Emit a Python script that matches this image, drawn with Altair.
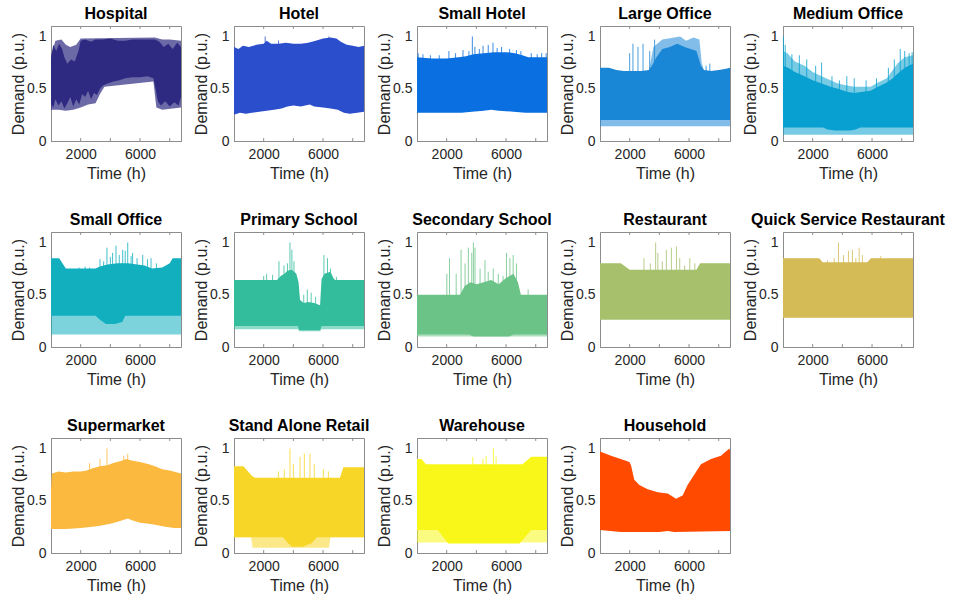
import altair as alt
import pandas as pd

FONT = "Liberation Sans"
TEXT = "#262626"
BOX = "#8c8c8c"

X_TICKS = [2000, 4000, 6000, 8000]
X_LABELS = [2000, 6000]
Y_TICKS = [0, 0.5, 1]

# ---------------- Hospital ----------------
HOSPITAL_HI = [(0, 0.78), (150, 0.92), (350, 0.86), (550, 0.93), (750, 0.88), (900, 0.80), (1100, 0.74),
               (1350, 0.78), (1600, 0.76), (1850, 0.86), (2000, 0.96), (2300, 0.97), (2700, 0.95), (3000, 0.97),
               (3500, 0.97), (4000, 0.98), (4500, 0.96), (5000, 0.96), (5500, 0.97), (6000, 0.97), (6500, 0.97),
               (7000, 0.97), (7300, 0.95), (7600, 0.90), (7900, 0.93), (8200, 0.88), (8500, 0.94), (8760, 0.90)]
HOSPITAL_LO = [(0, 0.36), (150, 0.32), (300, 0.40), (500, 0.34), (700, 0.38), (900, 0.31), (1100, 0.36),
               (1300, 0.42), (1500, 0.33), (1700, 0.40), (1900, 0.35), (2100, 0.45), (2300, 0.42), (2500, 0.48),
               (2700, 0.40), (2900, 0.46), (3100, 0.44), (3300, 0.50), (3500, 0.53), (3800, 0.55), (4200, 0.57),
               (4600, 0.58), (5000, 0.60), (5500, 0.61), (6000, 0.61), (6500, 0.62), (6900, 0.60), (7050, 0.50),
               (7200, 0.38), (7400, 0.34), (7700, 0.38), (8000, 0.33), (8300, 0.37), (8600, 0.34), (8760, 0.42)]
HOSPITAL_SPARSE_HI = [(0, 0.82), (300, 0.96), (700, 0.97), (1000, 0.92), (1300, 0.90), (1700, 0.92), (2000, 0.98),
                      (7000, 0.99), (7500, 0.97), (8000, 0.97), (8760, 0.96)]
HOSPITAL_SPARSE_LO = [(0, 0.30), (500, 0.30), (1000, 0.29), (1500, 0.30), (2000, 0.32), (2500, 0.35), (3000, 0.36),
                      (3300, 0.45), (3600, 0.52), (6900, 0.57), (7100, 0.32), (7500, 0.30), (8760, 0.32)]
HOSPITAL_SPIKES = []

# ---------------- Hotel ----------------
HOTEL_HI = [(0, 0.90), (300, 0.88), (600, 0.91), (1000, 0.90), (1500, 0.92), (2000, 0.93), (2200, 0.96),
            (2500, 0.93), (3000, 0.93), (3500, 0.94), (4000, 0.93), (4500, 0.93), (5000, 0.94), (5500, 0.96),
            (6000, 0.98), (6500, 0.99), (6900, 0.98), (7200, 0.95), (7600, 0.92), (8000, 0.91), (8400, 0.90),
            (8760, 0.91)]
HOTEL_LO = [(0, 0.25), (400, 0.27), (800, 0.26), (1200, 0.27), (1700, 0.28), (2200, 0.29), (2700, 0.30),
            (3200, 0.31), (3600, 0.33), (4000, 0.34), (4500, 0.33), (5100, 0.35), (5400, 0.33), (6000, 0.32),
            (6500, 0.31), (7000, 0.30), (7400, 0.27), (7800, 0.26), (8300, 0.27), (8760, 0.28)]
HOTEL_SPIKES = [(2100, 1.0), (3000, 0.96), (6400, 1.0)]

# ---------------- Small Hotel ----------------
SMALL_HOTEL_HI = [(0, 0.80), (1000, 0.79), (2000, 0.79), (2800, 0.80), (3300, 0.81), (3800, 0.83), (4500, 0.84),
                  (5200, 0.85), (6000, 0.85), (6600, 0.84), (7100, 0.82), (7500, 0.80), (8760, 0.80)]
SMALL_HOTEL_LO = [(0, 0.27), (1500, 0.27), (3000, 0.27), (3700, 0.28), (4500, 0.29), (5000, 0.30), (5500, 0.29),
                  (6500, 0.28), (7300, 0.27), (8760, 0.27)]
SMALL_HOTEL_SPIKES = [(80, 0.84), (400, 0.83), (900, 0.82), (1500, 0.82), (2150, 0.86), (2600, 0.84), (3100, 0.87),
                      (3500, 0.86), (3730, 1.0), (3900, 0.90), (4200, 0.88), (4450, 0.91), (4800, 0.92),
                      (5120, 0.94), (5400, 0.89), (5700, 0.90), (6240, 0.88), (6700, 0.87), (7000, 0.86),
                      (7700, 0.84), (8100, 0.83), (8400, 0.84), (8700, 0.84)]

# ---------------- Large Office ----------------
LARGE_OFFICE_HI = [(0, 0.70), (600, 0.70), (1100, 0.68), (1600, 0.67), (2200, 0.67), (2800, 0.67), (3300, 0.68),
                   (3500, 0.72), (3800, 0.80), (4200, 0.88), (4700, 0.90), (5200, 0.93), (5700, 0.90),
                   (6100, 0.88), (6500, 0.86), (6800, 0.72), (7000, 0.68), (7500, 0.67), (8000, 0.68),
                   (8500, 0.69), (8760, 0.70)]
LARGE_OFFICE_LO = [(0, 0.20), (4000, 0.20), (8760, 0.20)]
LARGE_OFFICE_SPARSE_HI = [(3300, 0.68), (3600, 0.90), (4200, 0.97), (5000, 0.99), (5400, 1.0), (5800, 0.96),
                          (6300, 0.99), (6700, 0.97), (6850, 0.75), (7000, 0.68)]
LARGE_OFFICE_SPARSE_LO = [(0, 0.14), (8760, 0.14)]
LARGE_OFFICE_SPIKES = [(2000, 0.84), (2220, 0.93), (2560, 0.90), (2900, 0.93), (3350, 0.86), (3680, 0.97),
                       (7150, 0.72), (7400, 0.74)]

# ---------------- Medium Office ----------------
MEDIUM_OFFICE_HI = [(0, 0.72), (350, 0.70), (800, 0.66), (1450, 0.62), (2000, 0.58), (2600, 0.55), (3200, 0.52),
                    (3700, 0.50), (4300, 0.47), (4800, 0.46), (5400, 0.47), (5900, 0.48), (6400, 0.52),
                    (7000, 0.56), (7400, 0.60), (7700, 0.64), (8200, 0.70), (8760, 0.74)]
MEDIUM_OFFICE_LO = [(0, 0.13), (2700, 0.13), (3000, 0.11), (3500, 0.10), (4500, 0.10), (4900, 0.11),
                    (5200, 0.13), (8760, 0.13)]
MEDIUM_OFFICE_SPARSE_HI = [(0, 0.86), (300, 0.84), (800, 0.76), (1450, 0.72), (2000, 0.66), (2600, 0.62),
                           (3200, 0.58), (3700, 0.55), (4300, 0.53), (4800, 0.52), (5400, 0.52), (5900, 0.52),
                           (6400, 0.56), (7000, 0.60), (7400, 0.68), (7700, 0.74), (8200, 0.80), (8760, 0.82)]
MEDIUM_OFFICE_SPARSE_LO = [(0, 0.06), (8760, 0.06)]
MEDIUM_OFFICE_SPIKES = [(30, 1.0), (150, 0.92), (600, 0.83), (1100, 0.82), (1600, 0.78), (2200, 0.72),
                        (2600, 0.75), (3300, 0.62), (3800, 0.58), (4300, 0.62), (4800, 0.60), (5600, 0.58),
                        (6300, 0.60), (7100, 0.70), (7500, 0.78), (7900, 0.88), (8200, 0.86), (8500, 0.84),
                        (8700, 0.85)]

# ---------------- Small Office ----------------
SMALL_OFFICE_HI = [(0, 0.85), (550, 0.85), (1000, 0.75), (2000, 0.75), (3000, 0.75), (3300, 0.77), (3800, 0.79),
                   (4500, 0.80), (5200, 0.80), (5800, 0.79), (6300, 0.78), (6800, 0.75), (7500, 0.76),
                   (8000, 0.80), (8200, 0.85), (8760, 0.85)]
SMALL_OFFICE_LO = [(0, 0.30), (3000, 0.30), (3300, 0.26), (3700, 0.22), (4300, 0.22), (4800, 0.24), (5000, 0.30),
                   (8760, 0.30)]
SMALL_OFFICE_SPARSE_LO = [(0, 0.12), (8760, 0.12)]
SMALL_OFFICE_SPIKES = [(1900, 0.76), (2300, 0.77), (2600, 0.76), (3300, 0.84), (3550, 0.82), (3770, 0.95),
                       (4000, 0.86), (4150, 0.90), (4380, 0.97), (4600, 0.88), (4830, 0.93), (5000, 0.92),
                       (5170, 1.0), (5400, 0.87), (5500, 0.90), (5800, 0.85), (6180, 0.88), (6500, 0.84),
                       (6740, 0.85), (7100, 0.80)]

# ---------------- Primary School ----------------
PRIMARY_SCHOOL_HI = [(0, 0.64), (2900, 0.64), (3150, 0.68), (3400, 0.70), (3600, 0.73), (3900, 0.74),
                     (4200, 0.70), (4350, 0.62), (4450, 0.45), (4700, 0.42), (5000, 0.43), (5400, 0.42),
                     (5800, 0.40), (5900, 0.65), (6100, 0.70), (6500, 0.72), (6700, 0.66), (6800, 0.64),
                     (8760, 0.64)]
PRIMARY_SCHOOL_LO = [(0, 0.20), (4300, 0.20), (4400, 0.16), (5800, 0.16), (5900, 0.20), (8760, 0.20)]
PRIMARY_SCHOOL_SPARSE_LO = [(0, 0.17), (4300, 0.17), (4400, 0.15), (5800, 0.15), (5900, 0.17), (8760, 0.17)]
PRIMARY_SCHOOL_SPIKES = [(2000, 0.68), (2200, 0.70), (2600, 0.69), (3030, 0.82), (3370, 0.78), (3600, 0.80),
                         (3770, 1.0), (3900, 0.93), (4040, 0.82), (4700, 0.50), (4940, 0.55), (5200, 0.52),
                         (5500, 0.48), (6060, 0.88), (6300, 0.85), (6500, 0.75), (6900, 0.67)]

# ---------------- Secondary School ----------------
SECONDARY_SCHOOL_HI = [(0, 0.50), (2900, 0.50), (3200, 0.58), (3600, 0.62), (4000, 0.60), (4500, 0.62),
                       (5000, 0.64), (5500, 0.60), (6000, 0.66), (6500, 0.70), (6800, 0.62), (7000, 0.50),
                       (8760, 0.50)]
SECONDARY_SCHOOL_LO = [(0, 0.12), (3500, 0.12), (3800, 0.10), (6200, 0.10), (6500, 0.12), (8760, 0.12)]
SECONDARY_SCHOOL_SPARSE_LO = [(0, 0.10), (8760, 0.10)]
SECONDARY_SCHOOL_SPIKES = [(2010, 0.70), (2190, 0.85), (2640, 0.70), (2970, 0.93), (3240, 0.80), (3460, 0.95),
                           (3690, 0.90), (3800, 1.0), (3910, 0.95), (4250, 0.75), (4580, 0.83), (4800, 0.72),
                           (5140, 0.75), (5480, 0.70), (5800, 0.68), (6030, 0.90), (6260, 0.85), (6480, 0.88),
                           (6700, 0.80), (7490, 0.55)]

# ---------------- Restaurant ----------------
RESTAURANT_HI = [(0, 0.80), (1400, 0.80), (2000, 0.74), (6500, 0.74), (6750, 0.80), (8760, 0.80)]
RESTAURANT_LO = [(0, 0.26), (8760, 0.26)]
RESTAURANT_SPIKES = [(2960, 0.85), (3390, 0.80), (3750, 1.0), (3900, 0.90), (4200, 0.82), (4470, 0.93),
                     (4810, 0.95), (5150, 0.96), (5370, 0.85), (5700, 0.78), (6050, 0.85), (6390, 0.80)]

# ---------------- Quick Service Restaurant ----------------
QSR_HI = [(0, 0.85), (2440, 0.85), (2670, 0.81), (5690, 0.81), (5920, 0.85), (8760, 0.85)]
QSR_LO = [(0, 0.28), (8760, 0.28)]
QSR_SPIKES = [(3000, 0.83), (3450, 0.85), (3740, 1.0), (4080, 0.88), (4410, 0.92), (4680, 0.93), (4910, 0.85),
              (5130, 0.95), (5350, 0.88), (6590, 0.87)]

# ---------------- Supermarket ----------------
SUPERMARKET_HI = [(0, 0.60), (60, 0.76), (500, 0.78), (1000, 0.77), (1500, 0.78), (2000, 0.78), (2400, 0.79),
                  (2800, 0.81), (3300, 0.83), (3800, 0.84), (4200, 0.86), (4700, 0.88), (5100, 0.90),
                  (5300, 0.89), (5600, 0.88), (6000, 0.87), (6600, 0.85), (7000, 0.83), (7500, 0.80),
                  (8000, 0.79), (8500, 0.77), (8760, 0.76)]
SUPERMARKET_LO = [(0, 0.23), (1000, 0.23), (2000, 0.24), (2800, 0.25), (3300, 0.26), (4000, 0.28), (4500, 0.30),
                  (5170, 0.33), (5500, 0.31), (6000, 0.29), (6600, 0.28), (7000, 0.27), (7700, 0.25),
                  (8300, 0.24), (8760, 0.24)]
SUPERMARKET_SPIKES = [(2600, 0.86), (3300, 0.90), (3770, 1.0), (4900, 0.93), (5170, 0.95)]

# ---------------- Stand Alone Retail ----------------
RETAIL_HI = [(0, 0.83), (630, 0.83), (1200, 0.74), (1420, 0.72), (7140, 0.72), (7370, 0.82), (8760, 0.82)]
RETAIL_LO = [(0, 0.15), (3300, 0.15), (3600, 0.10), (3900, 0.06), (4600, 0.06), (5200, 0.09), (5600, 0.15),
             (8760, 0.15)]
RETAIL_SPARSE_LO = [(0, 0.15), (1150, 0.15), (1250, 0.05), (6400, 0.05), (6500, 0.15), (8760, 0.15)]
RETAIL_SPIKES = [(2990, 0.78), (3390, 0.80), (3770, 1.0), (4000, 0.85), (4450, 0.92), (4740, 0.95),
                 (5120, 0.95), (5410, 0.85), (6020, 0.80), (6360, 0.78)]

# ---------------- Warehouse ----------------
WAREHOUSE_HI = [(0, 0.90), (300, 0.90), (600, 0.85), (7100, 0.85), (7700, 0.92), (8760, 0.92)]
WAREHOUSE_LO = [(0, 0.22), (1400, 0.22), (2100, 0.09), (6900, 0.09), (7700, 0.22), (8760, 0.22)]
WAREHOUSE_SPARSE_LO = [(0, 0.10), (8760, 0.10)]
WAREHOUSE_SPIKES = [(3760, 0.92), (4440, 0.90), (4660, 0.93), (5150, 1.0), (5330, 0.92)]

# ---------------- Household ----------------
HOUSEHOLD_HI = [(0, 0.97), (740, 0.93), (1400, 0.90), (1980, 0.87), (2090, 0.84), (2310, 0.70), (2650, 0.65),
                (3210, 0.61), (3890, 0.58), (4560, 0.57), (4780, 0.55), (5120, 0.52), (5570, 0.55),
                (5900, 0.65), (6360, 0.75), (6800, 0.85), (7480, 0.90), (8150, 0.93), (8715, 1.0), (8760, 0.98)]
HOUSEHOLD_LO = [(0, 0.22), (1400, 0.20), (4000, 0.20), (4560, 0.21), (5000, 0.20), (8760, 0.21)]

# (title, colour, core upper, core lower, sparse upper, sparse lower, spikes, sparse opacity)
PANELS = [
    ("Hospital", "#2e2a82", HOSPITAL_HI, HOSPITAL_LO, HOSPITAL_SPARSE_HI, HOSPITAL_SPARSE_LO, HOSPITAL_SPIKES, 0.7),
    ("Hotel", "#2b4fcc", HOTEL_HI, HOTEL_LO, [], [], HOTEL_SPIKES, 0.5),
    ("Small Hotel", "#0a6fe0", SMALL_HOTEL_HI, SMALL_HOTEL_LO, [], [], SMALL_HOTEL_SPIKES, 0.5),
    ("Large Office", "#1a86d6", LARGE_OFFICE_HI, LARGE_OFFICE_LO, LARGE_OFFICE_SPARSE_HI, LARGE_OFFICE_SPARSE_LO,
     LARGE_OFFICE_SPIKES, 0.55),
    ("Medium Office", "#08a0d0", MEDIUM_OFFICE_HI, MEDIUM_OFFICE_LO, MEDIUM_OFFICE_SPARSE_HI,
     MEDIUM_OFFICE_SPARSE_LO, MEDIUM_OFFICE_SPIKES, 0.55),
    ("Small Office", "#12afbf", SMALL_OFFICE_HI, SMALL_OFFICE_LO, [], SMALL_OFFICE_SPARSE_LO, SMALL_OFFICE_SPIKES,
     0.55),
    ("Primary School", "#33bd9d", PRIMARY_SCHOOL_HI, PRIMARY_SCHOOL_LO, [], PRIMARY_SCHOOL_SPARSE_LO,
     PRIMARY_SCHOOL_SPIKES, 0.55),
    ("Secondary School", "#6cc387", SECONDARY_SCHOOL_HI, SECONDARY_SCHOOL_LO, [], SECONDARY_SCHOOL_SPARSE_LO,
     SECONDARY_SCHOOL_SPIKES, 0.55),
    ("Restaurant", "#a6c06b", RESTAURANT_HI, RESTAURANT_LO, [], [], RESTAURANT_SPIKES, 0.5),
    ("Quick Service Restaurant", "#d4bb56", QSR_HI, QSR_LO, [], [], QSR_SPIKES, 0.5),
    ("Supermarket", "#fbb93f", SUPERMARKET_HI, SUPERMARKET_LO, [], [], SUPERMARKET_SPIKES, 0.5),
    ("Stand Alone Retail", "#f7d628", RETAIL_HI, RETAIL_LO, [], RETAIL_SPARSE_LO, RETAIL_SPIKES, 0.55),
    ("Warehouse", "#f9f719", WAREHOUSE_HI, WAREHOUSE_LO, [], WAREHOUSE_SPARSE_LO, WAREHOUSE_SPIKES, 0.55),
    ("Household", "#ff4a00", HOUSEHOLD_HI, HOUSEHOLD_LO, [], [], [], 0.5),
]

X_SCALE = alt.Scale(domain=[0, 8760], nice=False, zero=False)
Y_SCALE = alt.Scale(domain=[0, 1.1], nice=False, zero=False)
X_AXIS = alt.Axis(values=X_LABELS, format="d", title="Time (h)", labelPadding=6, titlePadding=4)
Y_AXIS = alt.Axis(values=Y_TICKS, format="~g", title="Demand (p.u.)", labelPadding=5, titlePadding=0)


def frame(points, base):
    return pd.DataFrame({"h": [p[0] for p in points], "v": [p[1] for p in points], "b": base})


def enc():
    return dict(x=alt.X("h:Q", scale=X_SCALE, axis=X_AXIS),
                y=alt.Y("v:Q", scale=Y_SCALE, axis=Y_AXIS),
                y2=alt.Y2("b:Q"))


def panel(title, color, hi, lo, shi, slo, spikes, sparse_opacity):
    top_lo = max(v for _, v in lo)
    bot_hi = min(v for _, v in hi)
    mid = (top_lo + bot_hi) / 2
    ov = min(0.03, (bot_hi - top_lo) / 3)
    layers = []
    if shi:
        layers.append(alt.Chart(frame(shi, mid)).mark_area(color=color, opacity=sparse_opacity).encode(**enc()))
    if slo:
        layers.append(alt.Chart(frame(slo, mid)).mark_area(color=color, opacity=sparse_opacity).encode(**enc()))
    if spikes:
        layers.append(alt.Chart(frame(spikes, mid)).mark_rule(color=color, strokeWidth=1, opacity=0.8)
                      .encode(**enc()))
    layers.append(alt.Chart(frame(hi, mid - ov)).mark_area(color=color).encode(**enc()))
    layers.append(alt.Chart(frame(lo, mid + ov)).mark_area(color=color).encode(**enc()))
    ticks = pd.DataFrame({"h": X_TICKS * 2, "v": [0.0] * len(X_TICKS) + [1.1] * len(X_TICKS),
                          "b": [0.028] * len(X_TICKS) + [1.072] * len(X_TICKS)})
    layers.append(alt.Chart(ticks).mark_rule(color=BOX, strokeWidth=1).encode(**enc()))
    return alt.layer(*layers).properties(
        width=130, height=115,
        title=alt.TitleParams(title, fontSize=16, fontWeight="bold", font=FONT, color="#000000", offset=4),
    )


charts = [panel(*p) for p in PANELS]

chart = alt.concat(*charts, columns=5, spacing={"row": 91, "column": 53}, bounds="flush").properties(
    padding={"left": 10, "top": 5, "right": 0, "bottom": 0}
).configure_view(
    stroke=BOX, strokeWidth=1
).configure_axis(
    labelFont=FONT, titleFont=FONT, labelFontSize=14, titleFontSize=16,
    labelColor=TEXT, titleColor=TEXT, titleFontWeight="normal",
    grid=False, ticks=False, tickSize=0, domain=True, domainColor=BOX, domainWidth=1, zindex=1,
).configure_title(
    font=FONT, fontSize=16, fontWeight="bold", color="#000000", anchor="middle"
)

chart.save("out.html", embed_options={"renderer": "svg", "actions": False})
